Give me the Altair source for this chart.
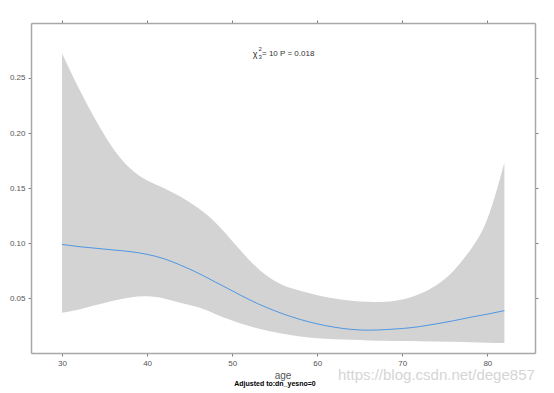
import altair as alt
import pandas as pd

# ---- data ----
age = [30, 32, 34, 36, 38, 40, 42, 44, 46, 48, 50, 52, 54, 56, 58, 60, 62, 64, 66, 68, 70, 72, 74, 76, 78, 80, 82]
fit = [0.099, 0.097, 0.0955, 0.094, 0.0925, 0.090, 0.086, 0.080, 0.073, 0.065, 0.057, 0.049, 0.042, 0.036,
       0.031, 0.027, 0.024, 0.022, 0.0213, 0.0218, 0.0228, 0.0245, 0.027, 0.0298, 0.033, 0.0358, 0.039]
lower = [0.037, 0.040, 0.044, 0.048, 0.051, 0.052, 0.050, 0.046, 0.042, 0.036, 0.030, 0.025, 0.021, 0.018,
         0.0155, 0.014, 0.013, 0.0125, 0.012, 0.0118, 0.0115, 0.0113, 0.011, 0.0107, 0.0103, 0.010, 0.0097]
upper = [0.272, 0.240, 0.211, 0.186, 0.168, 0.157, 0.150, 0.142, 0.132, 0.119, 0.102, 0.085, 0.071, 0.062,
         0.057, 0.053, 0.050, 0.048, 0.047, 0.047, 0.049, 0.054, 0.062, 0.075, 0.094, 0.122, 0.173]

x_ticks = [30, 40, 50, 60, 70, 80]
y_ticks = [0.05, 0.10, 0.15, 0.20, 0.25]

df = pd.DataFrame({"age": age, "fit": fit, "lower": lower, "upper": upper})

W, H = 504, 330
xs = alt.Scale(domain=[26.35, 85.6], nice=False, zero=False)
ys = alt.Scale(domain=[0.0006, 0.2997], nice=False, zero=False)

common = dict(domainColor="#a8a8a8", domainWidth=1.5, tickColor="#808080", tickSize=3, tickWidth=1,
              labelFont="Liberation Sans", labelFontSize=8, labelColor="#555555", grid=False,
              labelPadding=3)

band = alt.Chart(df).mark_area(color="#d3d3d3", opacity=1, interpolate="natural").encode(
    x=alt.X("age:Q", scale=xs, axis=alt.Axis(orient="bottom", values=x_ticks, title=None, **common)),
    y=alt.Y("lower:Q", scale=ys, axis=alt.Axis(orient="left", values=y_ticks, format=".2f", title=None, **common)),
    y2="upper:Q",
)

line = alt.Chart(df).mark_line(color="#4f97e3", strokeWidth=1, interpolate="natural").encode(
    x=alt.X("age:Q", scale=xs, axis=alt.Axis(orient="top", values=x_ticks, labels=False, title=None, **common)),
    y=alt.Y("fit:Q", scale=ys, axis=alt.Axis(orient="right", values=y_ticks, labels=False, title=None, **common)),
)

one = pd.DataFrame({"k": [0]})


def txt(text, x, y, size, color="#333333", weight="normal", align="left", font="Liberation Sans"):
    return alt.Chart(one).mark_text(text=text, fontSize=size, color=color, fontWeight=weight,
                                    align=align, baseline="middle", font=font).encode(
        x=alt.value(x), y=alt.value(y))


annots = [
    txt("χ", 224, 31, 9, align="center"),
    txt("2", 227.5, 26, 6),
    txt("3", 227.5, 33.5, 6),
    txt("= 10  P = 0.018", 231, 31.3, 8),
    txt("age", W / 2, 353, 10, color="#555555", align="center"),
    txt("Adjusted to:dn_yesno=0", 244, 361, 7, color="#000000", weight="bold", align="center"),
    txt("https://blog.csdn.net/dege857", 307, 352, 15, color="#d5d5d5"),
]

chart = alt.layer(band, line, *annots).resolve_axis(x="independent", y="independent").properties(
    width=W, height=H,
    autosize=alt.AutoSizeParams(type="none"),
    padding={"left": 23, "top": 15, "right": 10, "bottom": 36},
).configure_view(stroke=None).configure(background="white")

chart.save("out.html", embed_options={"renderer": "svg", "actions": False})
